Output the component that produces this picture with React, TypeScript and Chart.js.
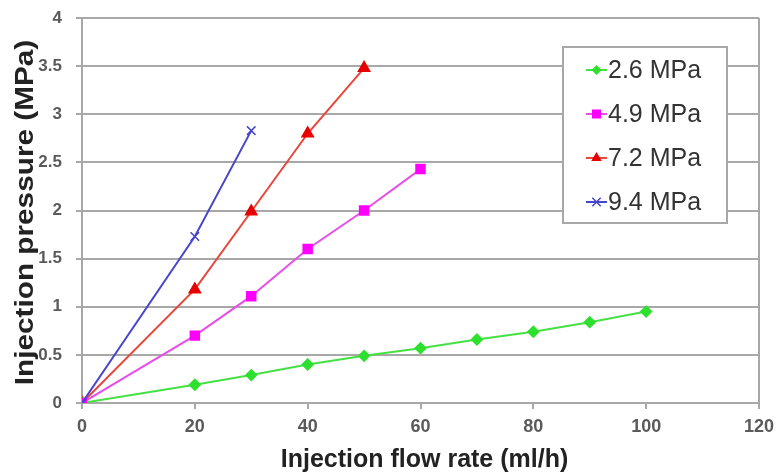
import React, { useEffect, useRef } from "react";
import { Chart, registerables } from "chart.js";

Chart.register(...registerables);

const flowRates26 = [0, 20, 30, 40, 50, 60, 70, 80, 90, 100];
const pressure26 = [0, 0.19, 0.29, 0.4, 0.49, 0.57, 0.66, 0.74, 0.84, 0.95];
const flowRates49 = [0, 20, 30, 40, 50, 60];
const pressure49 = [0, 0.7, 1.11, 1.6, 2.0, 2.43];
const flowRates72 = [0, 20, 30, 40, 50];
const pressure72 = [0, 1.18, 1.99, 2.8, 3.48];
const flowRates94 = [0, 20, 30];
const pressure94 = [0, 1.73, 2.83];

const seriesLabels = ["2.6 MPa", "4.9 MPa", "7.2 MPa", "9.4 MPa"];
const xTitle = "Injection flow rate (ml/h)";
const yTitle = "Injection pressure (MPa)";

const FONT = "'Liberation Sans', Arial, sans-serif";

const toPoints = (xs: number[], ys: number[]) => xs.map((x, i) => ({ x, y: ys[i] }));

function drawMarker(ctx: CanvasRenderingContext2D, style: string, x: number, y: number, r: number, color: string) {
  ctx.save();
  ctx.fillStyle = color;
  ctx.strokeStyle = color;
  ctx.lineWidth = 1.5;
  ctx.beginPath();
  if (style === "rectRot") {
    ctx.moveTo(x, y - r);
    ctx.lineTo(x + r, y);
    ctx.lineTo(x, y + r);
    ctx.lineTo(x - r, y);
    ctx.closePath();
    ctx.fill();
  } else if (style === "rect") {
    ctx.rect(x - r * 0.75, y - r * 0.75, r * 1.5, r * 1.5);
    ctx.fill();
  } else if (style === "triangle") {
    ctx.moveTo(x, y - r);
    ctx.lineTo(x + r * 0.87, y + r * 0.5);
    ctx.lineTo(x - r * 0.87, y + r * 0.5);
    ctx.closePath();
    ctx.fill();
  } else {
    const d = r * 0.7;
    ctx.moveTo(x - d, y - d);
    ctx.lineTo(x + d, y + d);
    ctx.moveTo(x + d, y - d);
    ctx.lineTo(x - d, y + d);
    ctx.stroke();
  }
  ctx.restore();
}

const decorPlugin = {
  id: "decor",
  afterDraw(chart: any) {
    const { ctx, chartArea } = chart;
    // legend box
    const bx = chartArea.right - 196;
    const by = chartArea.top + 29;
    const bw = 164;
    const bh = 176;
    ctx.save();
    ctx.fillStyle = "#ffffff";
    ctx.fillRect(bx, by, bw, bh);
    ctx.strokeStyle = "#a8a8a8";
    ctx.lineWidth = 2;
    ctx.strokeRect(bx, by, bw, bh);
    chart.data.datasets.forEach((ds: any, i: number) => {
      const cy = by + 23 + i * 44;
      const lx = bx + 23;
      ctx.strokeStyle = ds.borderColor;
      ctx.lineWidth = 2;
      ctx.beginPath();
      ctx.moveTo(lx, cy);
      ctx.lineTo(lx + 21, cy);
      ctx.stroke();
      drawMarker(ctx, ds.pointStyle, lx + 10.5, cy, ds.pointRadius, ds.pointBackgroundColor);
      ctx.fillStyle = "#333333";
      ctx.font = `25px ${FONT}`;
      ctx.textBaseline = "middle";
      ctx.textAlign = "left";
      ctx.fillText(ds.label, lx + 22, cy + 1);
    });
    // axis titles
    ctx.fillStyle = "#222222";
    ctx.font = `bold 25px ${FONT}`;
    ctx.textAlign = "center";
    ctx.textBaseline = "alphabetic";
    const cx = (chartArea.left + chartArea.right) / 2 + 4;
    ctx.fillText(xTitle, cx, chartArea.bottom + 64);
    ctx.save();
    ctx.translate(33, (chartArea.top + chartArea.bottom) / 2 + 2);
    ctx.rotate(-Math.PI / 2);
    ctx.scale(1.19, 1);
    ctx.fillText(yTitle, 0, 0);
    ctx.restore();
    ctx.restore();
  },
};

export default function App() {
  const ref = useRef<HTMLCanvasElement | null>(null);

  useEffect(() => {
    document.body.style.margin = "0";
    if (!ref.current) return;
    const chart = new Chart(ref.current, {
      type: "line",
      data: {
        datasets: [
          {
            label: seriesLabels[0],
            data: toPoints(flowRates26, pressure26),
            borderColor: "#44e044",
            backgroundColor: "#2ee02e",
            pointBackgroundColor: "#2ee02e",
            pointBorderColor: "#2ee02e",
            pointStyle: "rectRot",
            pointRadius: 5,
            borderWidth: 2,
            order: 0,
          },
          {
            label: seriesLabels[1],
            data: toPoints(flowRates49, pressure49),
            borderColor: "#e84de8",
            backgroundColor: "#ff00ff",
            pointBackgroundColor: "#ff00ff",
            pointBorderColor: "#ff00ff",
            pointStyle: "rect",
            pointRadius: 6,
            borderWidth: 2,
            order: -1,
          },
          {
            label: seriesLabels[2],
            data: toPoints(flowRates72, pressure72),
            borderColor: "#e8463c",
            backgroundColor: "#e80000",
            pointBackgroundColor: "#e80000",
            pointBorderColor: "#e80000",
            pointStyle: "triangle",
            pointRadius: 6,
            borderWidth: 2,
            order: 0,
          },
          {
            label: seriesLabels[3],
            data: toPoints(flowRates94, pressure94),
            borderColor: "#4646cc",
            backgroundColor: "#4646cc",
            pointBackgroundColor: "#4646cc",
            pointBorderColor: "#4646cc",
            pointStyle: "crossRot",
            pointRadius: 6,
            pointBorderWidth: 1.5,
            borderWidth: 2,
            order: -2,
          },
        ],
      },
      options: {
        animation: false,
        responsive: true,
        maintainAspectRatio: false,
        layout: { padding: { top: 18, right: 18, left: 0, bottom: 0 } },
        plugins: {
          legend: { display: false },
          tooltip: { enabled: false },
        },
        scales: {
          x: {
            type: "linear",
            min: 0,
            max: 120,
            afterFit: (s: any) => {
              s.height = 71;
              s.paddingLeft = 0;
              s.paddingRight = 0;
            },
            ticks: {
              stepSize: 20,
              color: "#5a5a5a",
              font: { family: FONT, size: 18, weight: "bold" },
              padding: 7,
            },
            grid: {
              drawOnChartArea: true,
              color: (c: any) => (c.tick && c.tick.value === 120 ? "#a8a8a8" : "rgba(0,0,0,0)"),
              tickColor: "#a8a8a8",
              tickLength: 6,
              lineWidth: 2,
            },
            border: { color: "#a8a8a8", width: 2 },
          },
          y: {
            min: 0,
            max: 4,
            afterFit: (s: any) => {
              s.width = 82;
              s.paddingTop = 0;
              s.paddingBottom = 0;
            },
            ticks: {
              stepSize: 0.5,
              color: "#5a5a5a",
              font: { family: FONT, size: 17, weight: "bold" },
              padding: 14,
              callback: (v: any) => String(v),
            },
            grid: {
              color: "#a8a8a8",
              lineWidth: 2,
              tickLength: 6,
            },
            border: { color: "#a8a8a8", width: 2 },
          },
        },
      },
      plugins: [decorPlugin],
    });
    return () => chart.destroy();
  }, []);

  return (
    <div style={{ width: 777, height: 474, position: "relative", background: "#fff" }}>
      <canvas ref={ref} />
    </div>
  );
}
